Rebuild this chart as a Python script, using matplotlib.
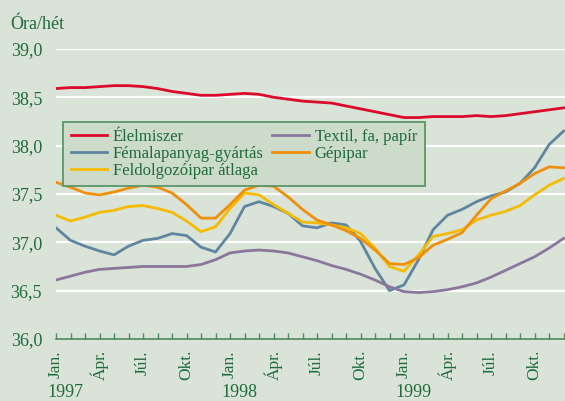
import numpy as np
import matplotlib.pyplot as plt

# havi adatok 1997 jan. - 1999 dec.
elelmiszer = [38.59, 38.60, 38.60, 38.61, 38.62, 38.62, 38.61, 38.59, 38.56, 38.54, 38.52, 38.52,
              38.53, 38.54, 38.53, 38.50, 38.48, 38.46, 38.45, 38.44, 38.41, 38.38, 38.35, 38.32,
              38.29, 38.29, 38.30, 38.30, 38.30, 38.31, 38.30, 38.31, 38.33, 38.35, 38.37, 38.39]
femalap = [37.15, 37.02, 36.96, 36.91, 36.87, 36.96, 37.02, 37.04, 37.09, 37.07, 36.95, 36.90,
           37.09, 37.37, 37.42, 37.37, 37.30, 37.17, 37.15, 37.20, 37.18, 37.01, 36.73, 36.50,
           36.56, 36.82, 37.13, 37.28, 37.34, 37.42, 37.48, 37.52, 37.61, 37.77, 38.01, 38.15]
atlag = [37.28, 37.22, 37.26, 37.31, 37.33, 37.37, 37.38, 37.35, 37.31, 37.22, 37.11, 37.16,
         37.35, 37.51, 37.49, 37.39, 37.30, 37.21, 37.20, 37.18, 37.15, 37.09, 36.94, 36.75,
         36.70, 36.87, 37.06, 37.09, 37.13, 37.23, 37.28, 37.32, 37.38, 37.49, 37.59, 37.66]
textil = [36.61, 36.65, 36.69, 36.72, 36.73, 36.74, 36.75, 36.75, 36.75, 36.75, 36.77, 36.82,
          36.89, 36.91, 36.92, 36.91, 36.89, 36.85, 36.81, 36.76, 36.72, 36.67, 36.61, 36.54,
          36.49, 36.48, 36.49, 36.51, 36.54, 36.58, 36.64, 36.71, 36.78, 36.85, 36.94, 37.04]
gepipar = [37.62, 37.57, 37.51, 37.49, 37.52, 37.56, 37.59, 37.57, 37.51, 37.39, 37.25, 37.25,
           37.39, 37.54, 37.59, 37.58, 37.47, 37.34, 37.23, 37.18, 37.12, 37.04, 36.92, 36.78,
           36.77, 36.84, 36.97, 37.03, 37.10, 37.28, 37.45, 37.53, 37.61, 37.71, 37.78, 37.77]
honap_cimkek = ['Jan.', 'Ápr.', 'Júl.', 'Okt.'] * 3
evek = ['1997', '1998', '1999']

bg = '#d9e3d7'
zold = '#1f6b3a'
x = np.arange(len(elelmiszer))

plt.rcParams['font.family'] = ['Liberation Serif', 'DejaVu Serif']

fig = plt.figure(figsize=(5.65, 4.01), dpi=100, facecolor=bg)
ax = fig.add_axes([56 / 565, 62 / 401, 1 - 56 / 565, 290.1 / 401], facecolor=bg)

for y in [36.5, 37.0, 37.5, 38.0, 38.5, 39.0]:
    ax.axhline(y, color='white', lw=1.6, zorder=1)

ax.plot(x, elelmiszer, color='#dc0a2a', lw=2, label='Élelmiszer', zorder=3)
ax.plot(x, femalap, color='#5e86a0', lw=2, label='Fémalapanyag-gyártás', zorder=3)
ax.plot(x, atlag, color='#f5bb00', lw=2, label='Feldolgozóipar átlaga', zorder=3)
ax.plot(x, textil, color='#8a789c', lw=2, label='Textil, fa, papír', zorder=3)
ax.plot(x, gepipar, color='#f0900a', lw=2, label='Gépipar', zorder=3)

ax.set_xlim(0, 35.1)
ax.set_ylim(36, 39)
for s in ['top', 'right', 'left']:
    ax.spines[s].set_visible(False)
ax.spines['bottom'].set_color('#4f8a5e')
ax.spines['bottom'].set_linewidth(1.2)

ax.set_yticks([36.0, 36.5, 37.0, 37.5, 38.0, 38.5, 39.0])
ax.set_yticklabels(['36,0', '36,5', '37,0', '37,5', '38,0', '38,5', '39,0'])
ax.tick_params(axis='y', length=0, pad=10, labelsize=13, labelcolor=zold)

ax.set_xticks(np.arange(0, 36, 3))
ax.set_xticklabels(honap_cimkek, rotation=90)
ax.set_xticks(np.arange(0, 36), minor=True)
ax.tick_params(axis='x', which='both', direction='in', length=4.5, width=1,
               color='#4f8a5e', pad=8, labelsize=12.5, labelcolor=zold)

for i, ev in enumerate(evek):
    fig.text((56 + 14.5 * 12 * i + 9) / 565, 0, ev, ha='center', va='bottom',
             fontsize=13, color=zold)
fig.text(10 / 565, 1 - 29 / 401, 'Óra/hét', fontsize=13, color=zold, va='baseline')

leg = ax.legend(ncol=2, loc='upper left', bbox_to_anchor=(7 / 509, 1 - 72.8 / 290.1),
                fontsize=12, frameon=True, fancybox=False, handlelength=2.2,
                handletextpad=0.35, labelspacing=0.05, columnspacing=0.5,
                borderpad=0.45, borderaxespad=0)
for t in leg.get_texts():
    t.set_color(zold)
fr = leg.get_frame()
fr.set_facecolor('#cddbca')
fr.set_edgecolor('#5a9768')
fr.set_linewidth(1.3)
fr.set_alpha(1)
leg.set_zorder(5)

plt.savefig('out.png', dpi=100, facecolor=bg)
